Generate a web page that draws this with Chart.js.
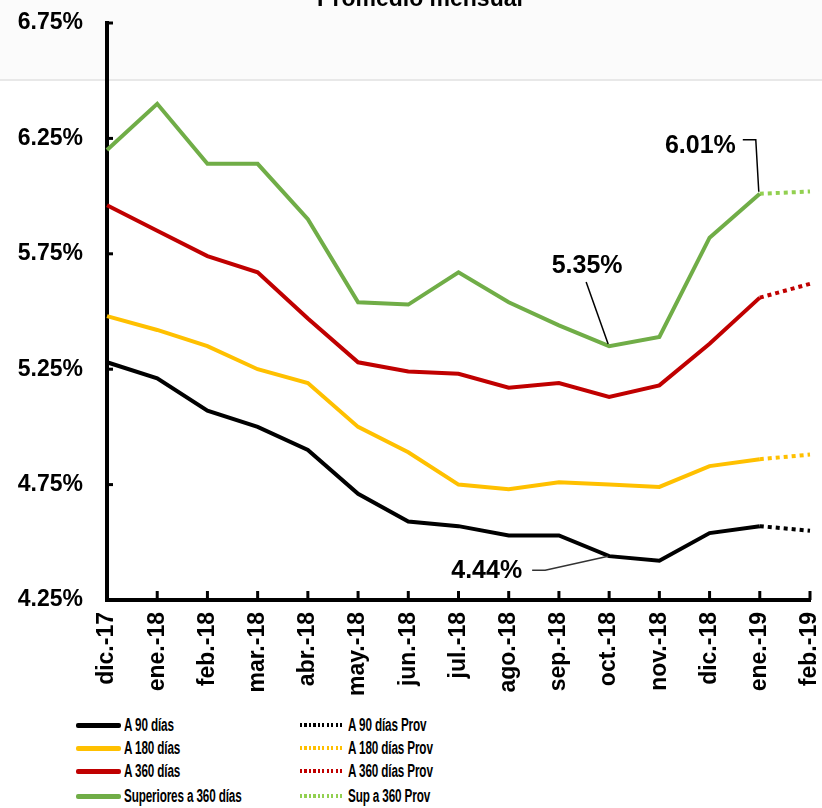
<!DOCTYPE html>
<html>
<head>
<meta charset="utf-8">
<script src="https://cdn.jsdelivr.net/npm/chart.js@4.4.0/dist/chart.umd.min.js"></script>
<style>
  body { margin: 0; background: #fff; width: 822px; height: 808px; overflow: hidden; position: relative; font-family: "Liberation Sans", Arial, sans-serif; }
  #wrap { position: absolute; left: 0; top: 0; width: 822px; height: 712px; }
  #legend { position: absolute; left: 0; top: 712px; width: 822px; height: 96px; }
  .item { position: absolute; display: flex; align-items: center; height: 20px; }
  .sw { width: 45px; height: 5px; margin-right: 3px; flex: none; }
  .lbl { font-weight: bold; font-size: 18px; transform: scaleX(0.65); transform-origin: left center; white-space: nowrap; color: #000; letter-spacing: -0.2px; }
</style>
</head>
<body>
<div id="wrap"><canvas id="tasas"></canvas></div>
<div id="legend"></div>
<script>
// meses
const categories = ['dic.-17', 'ene.-18', 'feb.-18', 'mar.-18', 'abr.-18', 'may.-18', 'jun.-18',
  'jul.-18', 'ago.-18', 'sep.-18', 'oct.-18', 'nov.-18', 'dic.-18', 'ene.-19', 'feb.-19'];

// tasas definitivas (%)
const a90 = [5.28, 5.21, 5.07, 5.00, 4.90, 4.71, 4.59, 4.57, 4.53, 4.53, 4.44, 4.42, 4.54, 4.57, null];
const a180 = [5.48, 5.42, 5.35, 5.25, 5.19, 5.00, 4.89, 4.75, 4.73, 4.76, 4.75, 4.74, 4.83, 4.86, null];
const a360 = [5.96, 5.85, 5.74, 5.67, 5.47, 5.28, 5.24, 5.23, 5.17, 5.19, 5.13, 5.18, 5.36, 5.56, null];
const sup360 = [6.20, 6.40, 6.14, 6.14, 5.90, 5.54, 5.53, 5.67, 5.54, 5.44, 5.35, 5.39, 5.82, 6.01, null];

// tasas provisionales (%)
const a90Prov = [null, null, null, null, null, null, null, null, null, null, null, null, null, 4.57, 4.55];
const a180Prov = [null, null, null, null, null, null, null, null, null, null, null, null, null, 4.86, 4.88];
const a360Prov = [null, null, null, null, null, null, null, null, null, null, null, null, null, 5.56, 5.62];
const sup360Prov = [null, null, null, null, null, null, null, null, null, null, null, null, null, 6.01, 6.02];

// eje Y
const yTicks = [4.25, 4.75, 5.25, 5.75, 6.25, 6.75];

const seriesNames = ['A 90 días', 'A 180 días', 'A 360 días', 'Superiores a 360 días'];
const provNames = ['A 90 días Prov', 'A 180 días Prov', 'A 360 días Prov', 'Sup a 360 Prov'];
const lineColors = ['#000000', '#FFC000', '#C00000', '#70AD47'];
const provColors = ['#000000', '#FFC000', '#C00000', '#92D050'];

const titulo = 'Promedio mensual';

// etiquetas de valor: [dataset, mes]
const valueLabels = [[3, 13], [3, 10], [0, 10]];

const mainData = [a90, a180, a360, sup360];
const provData = [a90Prov, a180Prov, a360Prov, sup360Prov];

const datasets = [];
mainData.forEach((d, i) => {
  datasets.push({
    label: seriesNames[i], data: d, borderColor: lineColors[i], backgroundColor: lineColors[i],
    borderWidth: 4, pointRadius: 0, tension: 0, spanGaps: false
  });
});
provData.forEach((d, i) => {
  datasets.push({
    label: provNames[i], data: d, borderColor: provColors[i], backgroundColor: provColors[i],
    borderWidth: 4, borderDash: [4, 4], pointRadius: 0, tension: 0
  });
});

const FONT = '"Liberation Sans", Arial, sans-serif';

// marcas hacia adentro, título y etiquetas con líneas guía
const extras = {
  id: 'extras',
  beforeDraw(chart) {
    const ctx = chart.ctx;
    ctx.save();
    ctx.fillStyle = '#ffffff';
    ctx.fillRect(0, 0, chart.width, chart.height);
    ctx.fillStyle = '#fbfbfb';
    ctx.fillRect(0, 0, chart.width, 80);
    ctx.strokeStyle = '#e8e8e8';
    ctx.lineWidth = 2;
    ctx.beginPath();
    ctx.moveTo(0, 80);
    ctx.lineTo(chart.width, 80);
    ctx.stroke();
    ctx.restore();
  },
  afterDraw(chart) {
    const ctx = chart.ctx;
    const xs = chart.scales.x, ys = chart.scales.y;
    const area = chart.chartArea;
    ctx.save();
    ctx.strokeStyle = '#000';
    ctx.lineWidth = 3;
    ys.ticks.forEach(t => {
      const y = ys.getPixelForValue(t.value);
      ctx.beginPath();
      ctx.moveTo(area.left, y);
      ctx.lineTo(area.left + 6, y);
      ctx.stroke();
    });
    categories.forEach((c, i) => {
      const x = xs.getPixelForValue(i);
      ctx.beginPath();
      ctx.moveTo(x, area.bottom);
      ctx.lineTo(x, area.bottom - 9);
      ctx.stroke();
    });

    // título (parte superior recortada)
    ctx.fillStyle = '#000';
    ctx.font = 'bold 23px ' + FONT;
    ctx.textAlign = 'center';
    ctx.textBaseline = 'alphabetic';
    ctx.fillText(titulo, 420, 6);

    // etiquetas de valor
    ctx.font = 'bold 25px ' + FONT;
    ctx.textBaseline = 'middle';
    valueLabels.forEach(([ds, idx]) => {
      const v = mainData[ds][idx];
      const px = xs.getPixelForValue(idx);
      const py = ys.getPixelForValue(v);
      const txt = v.toFixed(2) + '%';
      ctx.strokeStyle = '#000';
      ctx.lineWidth = 1.5;
      ctx.beginPath();
      if (ds === 3 && idx === 13) {
        ctx.textAlign = 'right';
        ctx.fillText(txt, px - 24, py - 48);
        ctx.moveTo(px - 17, py - 54);
        ctx.lineTo(px - 4, py - 54);
        ctx.lineTo(px - 1, py - 2);
      } else if (ds === 3) {
        ctx.textAlign = 'center';
        ctx.fillText(txt, px - 22, py - 80);
        ctx.moveTo(px - 23, py - 64);
        ctx.lineTo(px - 1, py - 2);
      } else {
        ctx.textAlign = 'right';
        ctx.fillText(txt, px - 87, py + 15);
        ctx.strokeStyle = '#333';
        ctx.moveTo(px - 77, py + 14);
        ctx.lineTo(px - 64, py + 14);
        ctx.lineTo(px - 1, py);
      }
      ctx.stroke();
    });
    ctx.restore();
  }
};

new Chart(document.getElementById('tasas').getContext('2d'), {
  type: 'line',
  data: { labels: categories, datasets: datasets },
  options: {
    responsive: true,
    maintainAspectRatio: false,
    animation: false,
    layout: { padding: { top: 23, right: 12, left: 0, bottom: 0 } },
    plugins: { legend: { display: false }, tooltip: { enabled: false } },
    scales: {
      x: {
        offset: false,
        grid: { display: false, drawTicks: false },
        border: { display: true, color: '#000', width: 4 },
        ticks: {
          autoSkip: false, minRotation: 90, maxRotation: 90, padding: 12,
          color: '#000', font: { family: FONT, size: 23, weight: 'bold' }
        },
        afterFit(scale) {
          scale.height = 112;
          scale.paddingLeft = 0;
          scale.paddingRight = 0;
        }
      },
      y: {
        min: 4.25, max: 6.75,
        afterBuildTicks(scale) { scale.ticks = yTicks.map(v => ({ value: v })); },
        grid: { display: false, drawTicks: false },
        border: { display: true, color: '#000', width: 4 },
        ticks: {
          padding: 24, color: '#000', font: { family: FONT, size: 23, weight: 'bold' },
          callback: v => v.toFixed(2) + '%'
        },
        afterFit(scale) {
          scale.width = 107;
          scale.paddingTop = 0;
          scale.paddingBottom = 0;
        }
      }
    }
  },
  plugins: [extras]
});

// leyenda en dos columnas
const legend = document.getElementById('legend');
const rowY = [725, 748, 771, 796];
seriesNames.forEach((name, i) => {
  const it = document.createElement('div');
  it.className = 'item';
  it.style.left = '76px';
  it.style.top = (rowY[i] - 10 - 712) + 'px';
  it.innerHTML = '<div class="sw" style="background:' + lineColors[i] + ';border-radius:2px"></div><span class="lbl">' + name + '</span>';
  legend.appendChild(it);
});
provNames.forEach((name, i) => {
  const it = document.createElement('div');
  it.className = 'item';
  it.style.left = '300px';
  it.style.top = (rowY[i] - 10 - 712) + 'px';
  it.innerHTML = '<div class="sw" style="width:42px;height:4px;margin-right:6px;background:repeating-linear-gradient(90deg,' + provColors[i] + ' 0 2px,transparent 2px 4.5px)"></div><span class="lbl">' + name + '</span>';
  legend.appendChild(it);
});
</script>
</body>
</html>
